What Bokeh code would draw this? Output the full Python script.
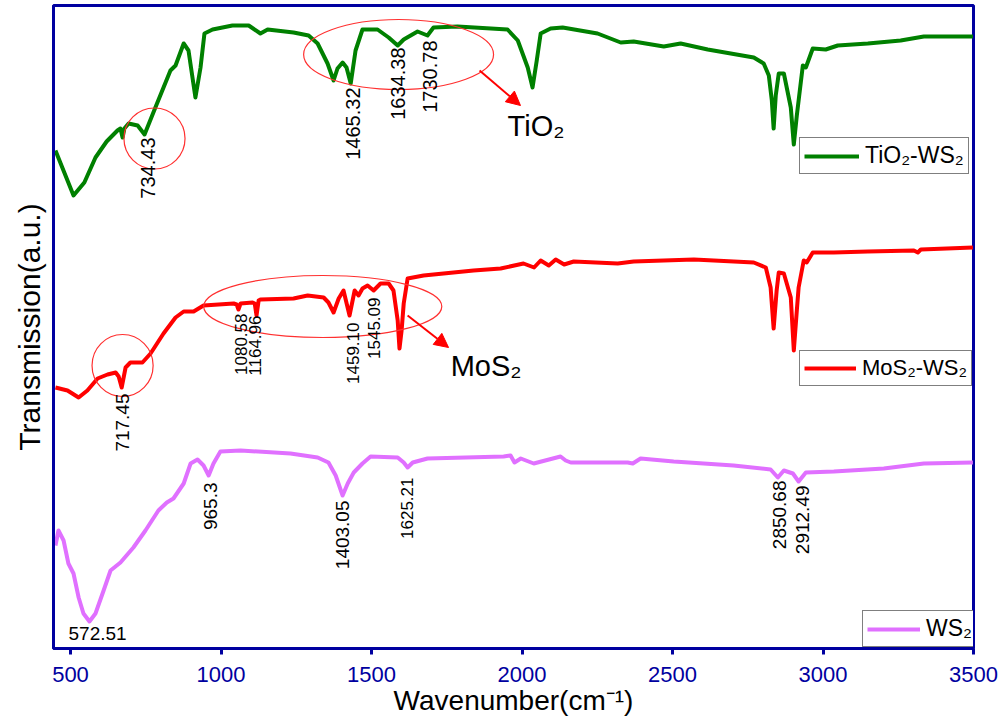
import math
from bokeh.plotting import figure
from bokeh.models import Range1d, Legend, LegendItem, Arrow, NormalHead, FixedTicker
from bokeh.core.properties import value
from bokeh.embed import file_html
from bokeh.resources import INLINE

FONT = "Liberation Sans"
AXIS_BLUE = "#0000A0"

# ---------------- data (wavenumber cm-1, transmission a.u.) ----------------
tio2_wn = [450, 510, 546, 583, 620, 656, 666, 673, 679, 693, 723, 746, 782, 832, 849, 876, 892, 915, 932, 945, 972,
           1005, 1038, 1092, 1131, 1155, 1241, 1291, 1321, 1354, 1374, 1387, 1404, 1417, 1431, 1447, 1470, 1520,
           1557, 1587, 1607, 1653, 1686, 1706, 1786, 1952, 1986, 2019, 2035, 2049, 2062, 2095, 2135, 2251, 2328,
           2371, 2471, 2527, 2617, 2770, 2803, 2820, 2830, 2836, 2843, 2853, 2870, 2893, 2903, 2913, 2919, 2933,
           2943, 2966, 3009, 3049, 3149, 3258, 3335, 3498]
tio2_t = [498, 453, 466, 491, 507, 518, 520, 511, 520, 525, 523, 514, 541, 578, 583, 605, 598, 551, 581, 615, 619,
          621, 623, 623, 615, 619, 616, 613, 605, 585, 568, 580, 586, 581, 565, 598, 619, 619,
          611, 603, 609, 617, 613, 621, 622, 619, 608, 581, 561, 588, 615, 620, 621, 615, 606,
          607, 602, 605, 599, 591, 585, 573, 548, 520, 553, 575, 575, 541, 504, 533, 548, 583,
          581, 600, 599, 603, 605, 608, 612, 612]

mos2_wn = [450, 490, 527, 556, 590, 623, 650, 660, 670, 683, 699, 739, 766, 809, 849, 876, 909, 942, 1042, 1052,
           1058, 1065, 1105, 1112, 1118, 1125, 1131, 1241, 1288, 1341, 1357, 1374, 1391, 1407, 1427, 1444, 1457,
           1470, 1487, 1507, 1530, 1557, 1573, 1587, 1593, 1600, 1607, 1620, 1673, 1839, 1929, 2005, 2040, 2062,
           2089, 2112, 2140, 2172, 2318, 2371, 2571, 2770, 2810, 2826, 2836, 2846, 2853, 2870, 2893, 2903, 2913,
           2919, 2936, 2946, 2966, 3036, 3149, 3302, 3315, 3325, 3498]
mos2_t = [261, 258, 251, 258, 270, 274, 276, 272, 261, 281, 286, 286, 295, 315, 331, 337, 337, 343, 345, 344,
          339, 345, 346, 345, 333, 348, 349, 350, 353, 351, 346, 336, 350, 358, 333, 358, 353,
          360, 363, 358, 365, 365, 358, 328, 300, 318, 345, 370, 373, 378, 380, 385, 381, 388,
          383, 389, 384, 387, 385, 387, 389, 386, 381, 361, 320, 358, 376, 375, 351, 298, 338,
          361, 388, 386, 396, 396, 397, 398, 396, 399, 401]

ws2_wn = [450, 460, 477, 493, 510, 527, 543, 563, 583, 610, 633, 666, 709, 749, 792, 820, 842, 876, 899, 922, 942,
          959, 975, 998, 1065, 1231, 1321, 1357, 1381, 1404, 1421, 1441, 1470, 1497, 1587, 1607, 1620, 1637,
          1686, 1939, 1962, 1975, 1996, 2039, 2128, 2145, 2162, 2351, 2368, 2394, 2504, 2703, 2826, 2850, 2870,
          2900, 2919, 2943, 3036, 3202, 3335, 3498]
ws2_t = [103, 118, 108, 85, 75, 51, 35, 27, 35, 58, 78, 86, 101, 118, 138, 146, 150, 165, 185, 189, 183,
         173, 185, 197, 198, 195, 191, 186, 173, 153, 165, 176, 185, 192, 191, 186, 181, 186,
         190, 192, 193, 186, 190, 185, 192, 188, 186, 186, 185, 190, 187, 183, 179, 171, 178,
         175, 167, 176, 177, 180, 185, 186]

series_names = ["TiO\u2082-WS\u2082", "MoS\u2082-WS\u2082", "WS\u2082"]
series_colors = ["#008000", "#FF0000", "#E070FF"]

x_ticks = [500, 1000, 1500, 2000, 2500, 3000, 3500]

# peak labels (rotated): text, x position, top y
tio2_peak_text = ["734.43", "1465.32", "1634.38", "1730.78"]
tio2_peak_x = [756, 1437, 1587, 1696]
tio2_peak_y = [511, 561, 601, 608]

mos2_peak_big_text = ["717.45"]
mos2_peak_big_x = [673]
mos2_peak_big_y = [255]
mos2_peak_text = ["1080.58", "1164.96", "1459.10", "1545.09"]
mos2_peak_x = [1065, 1112, 1437, 1507]
mos2_peak_y = [335, 333, 326, 351]

ws2_peak_text = ["965.3", "1403.05", "2850.68", "2912.49"]
ws2_peak_x = [965, 1404, 2856, 2933]
ws2_peak_y = [166, 148, 168, 163]
ws2_small_text = ["1625.21"]
ws2_small_x = [1617]
ws2_small_y = [171]
ws2_flat_text = ["572.51"]
ws2_flat_x = [590]
ws2_flat_y = [15]

# highlight ellipses: centre x, centre y, width (cm-1), height (a.u.)
ell_x = [1590, 779, 1338, 673]
ell_y = [594, 510, 342, 283]
ell_w = [631, 203, 791, 203]
ell_h = [70, 61, 62, 62]

# arrows and phase labels
arrow_x0 = [1859, 1620]
arrow_y0 = [578, 333]
arrow_x1 = [1995, 1756]
arrow_y1 = [543, 301]
phase_text = ["TiO\u2082", "MoS\u2082"]
phase_x = [1952, 1763]
phase_y = [523, 283]

# ---------------- figure ----------------
p = figure(width=1008, height=719, output_backend="svg", toolbar_location=None,
           x_range=Range1d(443.5, 3500), y_range=Range1d(0, 643),
           min_border_left=53, min_border_right=35, min_border_top=5, min_border_bottom=71)
p.background_fill_color = "white"
p.border_fill_color = "white"
p.xgrid.visible = False
p.ygrid.visible = False
p.outline_line_color = AXIS_BLUE
p.outline_line_width = 3
p.outline_line_alpha = 1

xa = p.xaxis[0]
xa.ticker = FixedTicker(ticks=x_ticks)
xa.axis_line_color = AXIS_BLUE
xa.axis_line_width = 3
xa.major_tick_line_color = AXIS_BLUE
xa.major_tick_line_width = 3
xa.major_tick_out = 6
xa.major_tick_in = 0
xa.minor_tick_line_color = None
xa.major_label_text_color = AXIS_BLUE
xa.major_label_text_font = FONT
xa.major_label_text_font_size = "22px"
xa.major_label_standoff = 12
xa.axis_label = "Wavenumber(cm\u207B\u00B9)"
xa.axis_label_text_font = FONT
xa.axis_label_text_font_style = "normal"
xa.axis_label_text_font_size = "28px"
xa.axis_label_text_color = "black"
xa.axis_label_standoff = 0

ya = p.yaxis[0]
ya.ticker = FixedTicker(ticks=[])
ya.axis_line_color = AXIS_BLUE
ya.axis_line_width = 3
ya.major_tick_line_color = None
ya.minor_tick_line_color = None
ya.major_label_text_color = None
ya.axis_label = "Transmission(a.u.)"
ya.axis_label_text_font = FONT
ya.axis_label_text_font_style = "normal"
ya.axis_label_text_font_size = "30px"
ya.axis_label_text_color = "black"
ya.axis_label_standoff = 8

# ---------------- curves ----------------
r_ws2 = p.line(ws2_wn, ws2_t, line_color=series_colors[2], line_width=4, line_join="round")
r_mos2 = p.line(mos2_wn, mos2_t, line_color=series_colors[1], line_width=4, line_join="round")
r_tio2 = p.line(tio2_wn, tio2_t, line_color=series_colors[0], line_width=4, line_join="round")

# ---------------- ellipses & arrows ----------------
p.ellipse(x=ell_x, y=ell_y, width=ell_w, height=ell_h, fill_color=None,
          line_color="#FF3030", line_width=1.2)
for i in range(len(arrow_x0)):
    p.add_layout(Arrow(end=NormalHead(size=14, fill_color="#FF0000", line_color="#FF0000"),
                       x_start=arrow_x0[i], y_start=arrow_y0[i], x_end=arrow_x1[i], y_end=arrow_y1[i],
                       line_color="#FF0000", line_width=2))

p.text(x=phase_x, y=phase_y, text=phase_text, text_font=value(FONT), text_font_size="29px",
       text_color="black", text_align="left", text_baseline="alphabetic")

# ---------------- peak labels ----------------
def vlabels(xs, ys, txt, size):
    p.text(x=xs, y=ys, text=txt, angle=math.pi / 2, text_align="right", text_baseline="middle",
           text_font=value(FONT), text_font_size=size, text_color="black")

vlabels(tio2_peak_x, tio2_peak_y, tio2_peak_text, "20px")
vlabels(mos2_peak_big_x, mos2_peak_big_y, mos2_peak_big_text, "19px")
vlabels(mos2_peak_x, mos2_peak_y, mos2_peak_text, "17px")
vlabels(ws2_peak_x, ws2_peak_y, ws2_peak_text, "19px")
vlabels(ws2_small_x, ws2_small_y, ws2_small_text, "17px")
p.text(x=ws2_flat_x, y=ws2_flat_y, text=ws2_flat_text, text_align="center", text_baseline="middle",
       text_font=value(FONT), text_font_size="19px", text_color="black")

# ---------------- legends (one box per spectrum) ----------------
legend_locs = [(746, 474), (746, 262), (809, 1)]
legend_glyph_w = [55, 52, 53]
legend_font = ["23px", "22px", "23px"]
for name, rend, loc, gw, fs in zip(series_names, [r_tio2, r_mos2, r_ws2], legend_locs, legend_glyph_w, legend_font):
    leg = Legend(items=[LegendItem(label=name, renderers=[rend])], location=loc,
                 border_line_color="black", border_line_width=1, background_fill_color="white",
                 background_fill_alpha=1, label_text_font=FONT, label_text_font_size=fs,
                 label_text_color="black", glyph_width=gw, glyph_height=20, label_standoff=6,
                 padding=4, margin=0, spacing=0, label_height=22)
    p.add_layout(leg)

open("out.html", "w").write(file_html(p, INLINE))
